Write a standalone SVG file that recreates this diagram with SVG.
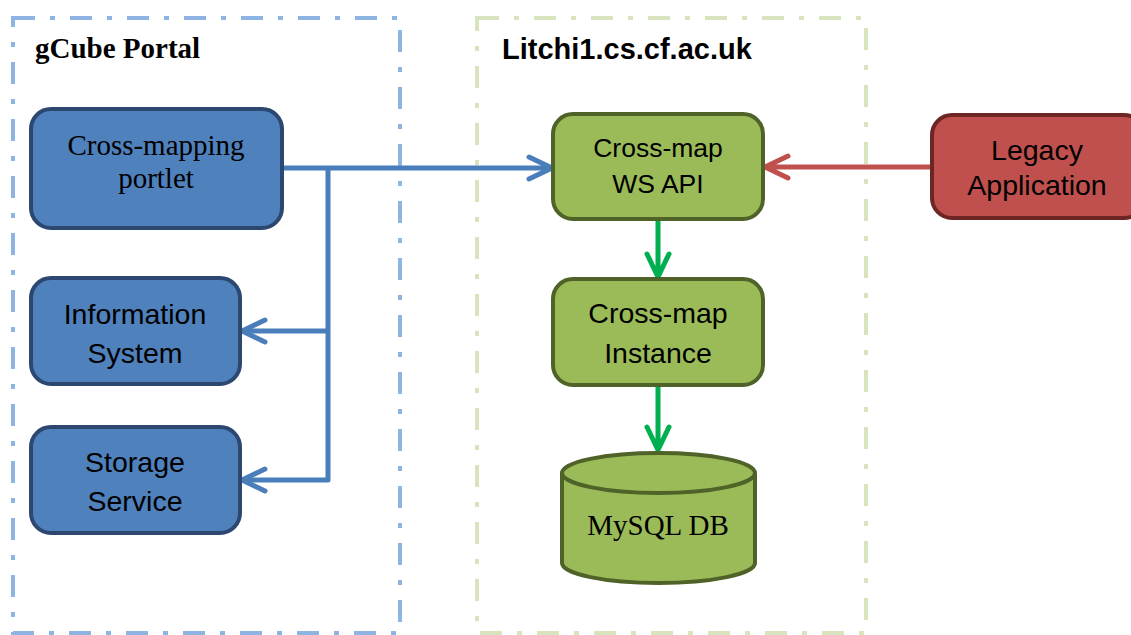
<svg xmlns="http://www.w3.org/2000/svg" width="1131" height="635" viewBox="0 0 1131 635">
<style>
.cont{fill:none;stroke-width:4;stroke-dasharray:22 15 5 15}
.blue{fill:#4F81BD;stroke:#2C4770;stroke-width:4}
.green{fill:#9BBB59;stroke:#4F6228;stroke-width:4}
.red{fill:#C0504D;stroke:#6E2624;stroke-width:4}
.sans{font-family:"Liberation Sans",Arial,sans-serif;fill:#000;text-anchor:middle}
.serif{font-family:"Liberation Serif","Times New Roman",serif;fill:#000;text-anchor:middle}
.ttl{font-weight:bold;font-size:29px}
.c{fill:none;stroke-width:5;stroke-linecap:round;stroke-linejoin:round}
</style>
<rect width="1131" height="635" fill="#fff"/>
<g id="gcube-portal">
<rect class="cont" x="13" y="18" width="387" height="615" stroke="#8EB4E3"/>
<text class="serif ttl" x="35" y="58" style="text-anchor:start">gCube Portal</text>
</g>
<g id="litchi">
<rect class="cont" x="477" y="18" width="389" height="615" stroke="#D7E4BD"/>
<text class="sans ttl" x="502" y="59" style="text-anchor:start">Litchi1.cs.cf.ac.uk</text>
</g>
<g id="connectors">
<path class="c" stroke="#4A7EBB" d="M282 168H552M328 168V480M328 331H242M328 480H242"/>
<path class="c" stroke="#4A7EBB" d="M529 157L552 168L529 179M265 320L242 331L265 342M265 469L242 480L265 491"/>
<path class="c" stroke="#C0504D" d="M932 167H765M788 156L765 167L788 178"/>
<path class="c" stroke="#00B050" d="M658 221V277M647 254L658 277L669 254M658 387V450M647 427L658 450L669 427"/>
</g>
<g id="portlet">
<rect class="blue" x="31" y="109" width="251" height="119" rx="20"/>
<text class="serif" font-size="29" x="156" y="155">Cross-mapping</text>
<text class="serif" font-size="29" x="156" y="188">portlet</text>
</g>
<g id="info-system">
<rect class="blue" x="31" y="278" width="209" height="106" rx="20"/>
<text class="sans" font-size="28.5" x="135" y="324">Information</text>
<text class="sans" font-size="28.5" x="135" y="363">System</text>
</g>
<g id="storage">
<rect class="blue" x="31" y="427" width="209" height="106" rx="20"/>
<text class="sans" font-size="28.5" x="135" y="472">Storage</text>
<text class="sans" font-size="28.5" x="135" y="511">Service</text>
</g>
<g id="ws-api">
<rect class="green" x="553" y="114" width="210" height="105" rx="20"/>
<text class="sans" font-size="26.5" x="658" y="157">Cross-map</text>
<text class="sans" font-size="26.5" x="658" y="193">WS API</text>
</g>
<g id="instance">
<rect class="green" x="553" y="279" width="210" height="106" rx="20"/>
<text class="sans" font-size="28.5" x="658" y="323">Cross-map</text>
<text class="sans" font-size="28.5" x="658" y="363">Instance</text>
</g>
<g id="mysql">
<path class="green" d="M562 473V563A96.5 20 0 0 0 755 563V473A96.5 20 0 0 0 562 473Z"/>
<path class="green" d="M562 473A96.5 20 0 0 0 755 473"/>
<text class="serif" font-size="29" x="658" y="535">MySQL DB</text>
</g>
<g id="legacy">
<rect class="red" x="932" y="115" width="212" height="103" rx="20"/>
<text class="sans" font-size="28.5" x="1037" y="160">Legacy</text>
<text class="sans" font-size="28.5" x="1037" y="195">Application</text>
</g>
</svg>
